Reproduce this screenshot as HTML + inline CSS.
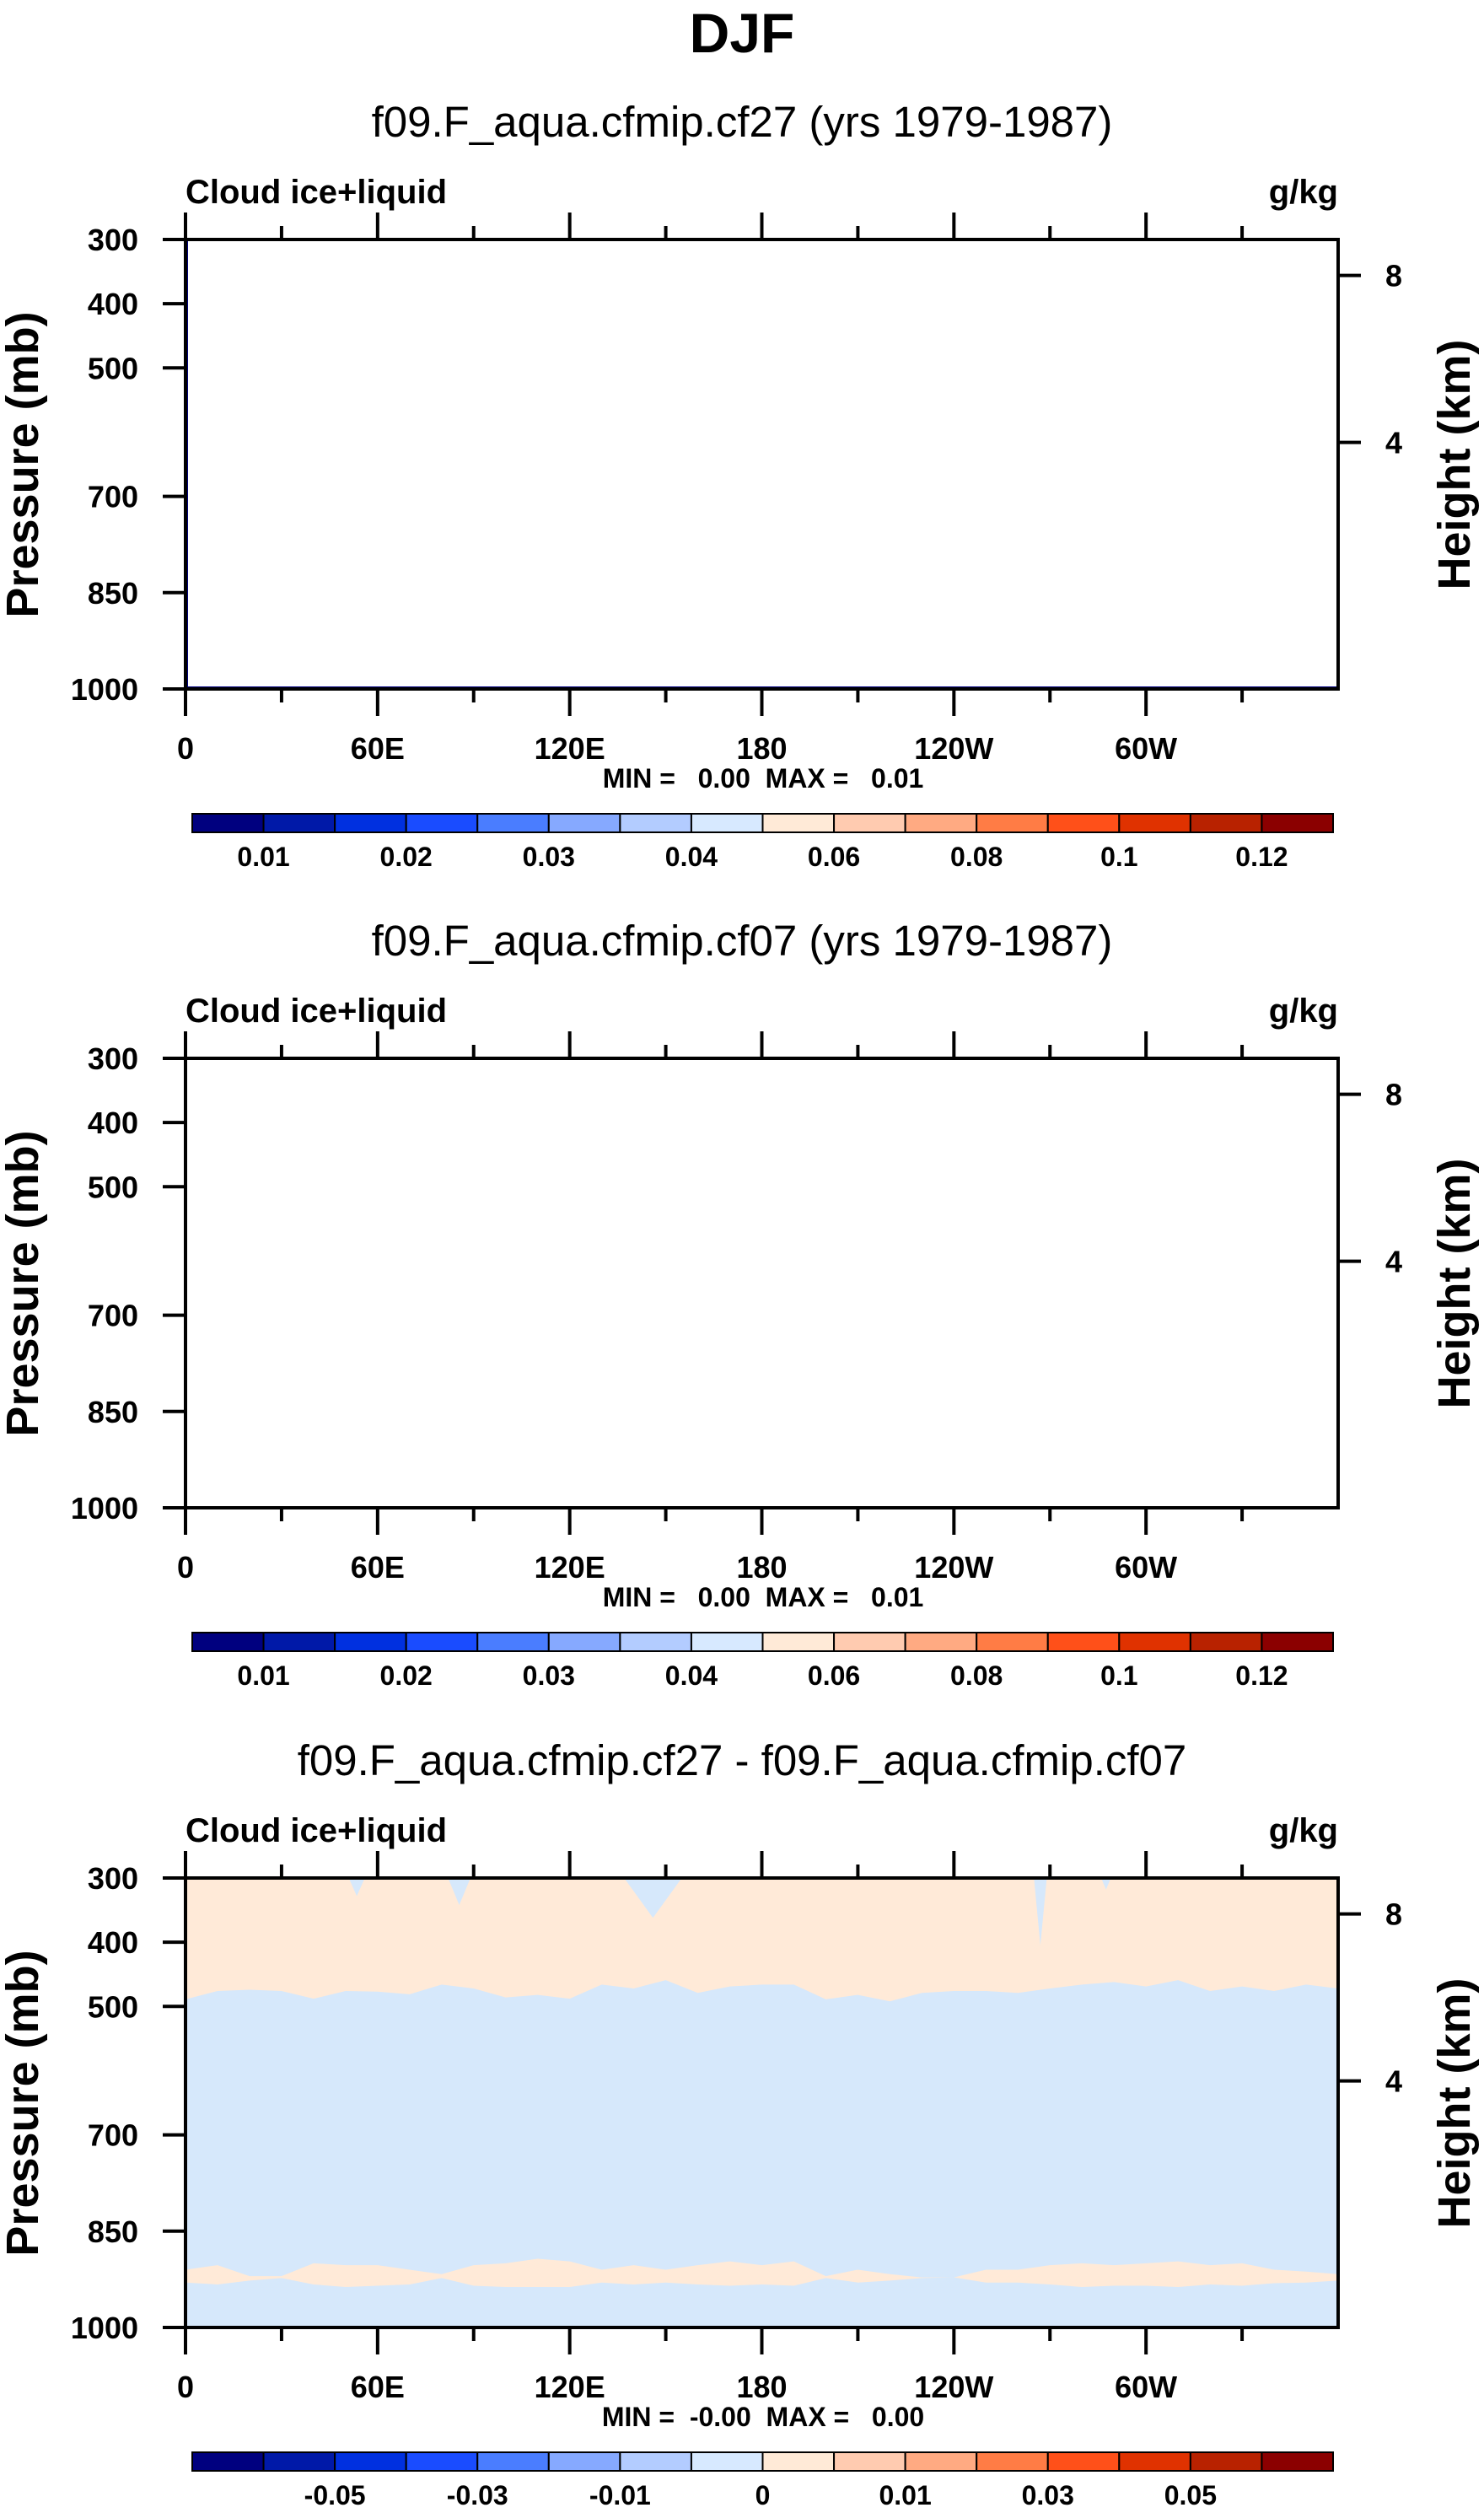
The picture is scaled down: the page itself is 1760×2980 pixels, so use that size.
<!DOCTYPE html>
<html><head><meta charset="utf-8"><style>
html,body{margin:0;padding:0;background:#fff;}
svg text{font-family:"Liberation Sans",Arial,sans-serif;white-space:pre;}
</style></head><body>
<svg id="fig" xmlns="http://www.w3.org/2000/svg" width="1760" height="2975" viewBox="0 0 1760 2975">
<rect width="1760" height="2975" fill="#fff"/>
<text x="880" y="62" font-size="66" font-weight="bold" text-anchor="middle">DJF</text>
</svg>
<script>
// ---- data ----
const lonTickLabels = ["0","60E","120E","180","120W","60W"];
const lonTicks = [0,60,120,180,240,300];
const pressureTicks = [300,400,500,700,850,1000];
const heightTickLabels = ["8","4"];
const heightTickPressures = [356,616];
const colors = ["#00007f","#0019a8","#0030e0","#1a4cff","#4a7dff","#86a9ff","#b3ccff","#d7e9ff","#ffead7","#ffcbb0","#ffaa82","#ff7c45","#ff5019","#e03200","#b82200","#8b0000"];
const cbLabels12 = ["0.01","0.02","0.03","0.04","0.06","0.08","0.1","0.12"];
const cbLabelPos12 = [1,3,5,7,9,11,13,15];
const cbLabels3 = ["-0.05","-0.03","-0.01","0","0.01","0.03","0.05"];
const cbLabelPos3 = [2,4,6,8,10,12,14];
const subtitles = ["f09.F_aqua.cfmip.cf27 (yrs 1979-1987)","f09.F_aqua.cfmip.cf07 (yrs 1979-1987)","f09.F_aqua.cfmip.cf27 - f09.F_aqua.cfmip.cf07"];
const minmax = ["MIN =   0.00  MAX =   0.01","MIN =   0.00  MAX =   0.01","MIN =  -0.00  MAX =   0.00"];
// diff panel: longitudes every 10 deg
const diffLons = [0,10,20,30,40,50,60,70,80,90,100,110,120,130,140,150,160,170,180,190,200,210,220,230,240,250,260,270,280,290,300,310,320,330,340,350,360];
const upperBoundary = [489,476,474,476,488,476,477,481,466,472,486,482,488,466,472,459,479,469,466,466,489,482,492,479,476,476,479,472,466,462,469,459,476,469,476,466,472];
const bandTop = [910,903,920,920,900,903,903,910,917,903,900,893,897,910,903,910,903,897,903,897,920,910,917,922,922,910,910,903,900,903,900,897,903,900,910,913,917];
const bandBottom = [930,933,927,923,933,937,935,933,923,935,937,937,937,930,933,930,933,935,933,935,923,930,927,923,922,930,930,933,937,935,935,937,933,935,931,930,927];
// blue intrusions from top: start lon, end lon, deepest pressure
const intrusionStart = [51,82,137,265,286];
const intrusionEnd = [56,89,155,269,289];
const intrusionDepth = [328,342,362,405,318];

const NS="http://www.w3.org/2000/svg";
const svg=document.getElementById('fig');
const L=220,R=1587,H=533;
const panelTops=[284,1255,2227];
function el(tag,attrs,parent,txt){const e=document.createElementNS(NS,tag);for(const k in attrs)e.setAttribute(k,attrs[k]);if(txt!==undefined)e.textContent=txt;(parent||svg).appendChild(e);return e;}
function xS(lon){return L+(R-L)*lon/360;}
function yS(p,T){return T+H*(p-300)/700;}

panelTops.forEach((T,pi)=>{
  const g=el('g',{});
  
  
  const st=el('text',{x:880,y:T-122,'font-size':51,'text-anchor':'middle'},g,subtitles[pi]);
  
  
  const lt=el('text',{x:L,y:T-43,'font-size':40,'font-weight':'bold'},g,'Cloud ice+liquid');
  
  
  const ut=el('text',{x:R,y:T-43,'font-size':40,'font-weight':'bold','text-anchor':'end'},g,'g/kg');
  
  
  if(pi===2){
    const bg=el('rect',{x:L,y:T,width:R-L,height:H,fill:'#d6e8fb'},g);
    
    
    let pts=[[xS(0),yS(300,T)]];
    diffLons.forEach((lo,i)=>pts.push([xS(lo),yS(upperBoundary[i],T)]));
    pts.push([xS(360),yS(300,T)]);
    const up=el('polygon',{points:pts.map(p=>p.join(',')).join(' '),fill:'#ffead8'},g);
    
    
    intrusionStart.forEach((s,i)=>{
      const m=(s+intrusionEnd[i])/2;
      const pol=el('polygon',{points:`${xS(s)},${T} ${xS(intrusionEnd[i])},${T} ${xS(m)},${yS(intrusionDepth[i],T)}`,fill:'#d6e8fb'},g);
      
      
    });
    let bp=[];
    diffLons.forEach((lo,i)=>bp.push([xS(lo),yS(bandTop[i],T)]));
    for(let i=diffLons.length-1;i>=0;i--)bp.push([xS(diffLons[i]),yS(bandBottom[i],T)]);
    const band=el('polygon',{points:bp.map(p=>p.join(',')).join(' '),fill:'#ffead8'},g);
    
    
  }
  if(pi===0){
    const c=el('polyline',{points:`${L+1},${T} ${L+1},${T+H-1} ${R},${T+H-1}`,fill:'none',stroke:'#00007f','stroke-width':4},g);
    
    
  }
  const fr=el('rect',{x:L,y:T,width:R-L,height:H,fill:'none',stroke:'#000','stroke-width':4},g);
  
  
  for(let lo=0;lo<360;lo+=30){
    const major=lo%60===0;const len=major?32:16;const x=xS(lo);
    el('line',{x1:x,y1:T,x2:x,y2:T-len,stroke:'#000','stroke-width':4},g);
    el('line',{x1:x,y1:T+H,x2:x,y2:T+H+len,stroke:'#000','stroke-width':4},g);
  }
  lonTicks.forEach((lo,i)=>{
    const t=el('text',{x:xS(lo),y:T+616,'font-size':36,'font-weight':'bold','text-anchor':'middle'},g,lonTickLabels[i]);
    
    
  });
  pressureTicks.forEach(p=>{
    const y=yS(p,T);
    el('line',{x1:L,y1:y,x2:L-27,y2:y,stroke:'#000','stroke-width':4},g);
    const t=el('text',{x:164,y:y+13,'font-size':36,'font-weight':'bold','text-anchor':'end'},g,String(p));
    
    
  });
  heightTickPressures.forEach((p,i)=>{
    const y=yS(p,T);
    el('line',{x1:R,y1:y,x2:R+27,y2:y,stroke:'#000','stroke-width':4},g);
    const t=el('text',{x:1653,y:y+13,'font-size':36,'font-weight':'bold','text-anchor':'middle'},g,heightTickLabels[i]);
    
    
  });
  const yl=el('text',{x:0,y:0,'font-size':54,'font-weight':'bold','text-anchor':'middle',transform:`translate(45,${T+267}) rotate(-90)`},g,'Pressure (mb)');
  
  
  const yr=el('text',{x:0,y:0,'font-size':54,'font-weight':'bold','text-anchor':'middle',transform:`translate(1743,${T+267}) rotate(-90)`},g,'Height (km)');
  
  
  const mm=el('text',{x:905,y:T+650,'font-size':32,'font-weight':'bold','text-anchor':'middle'},g,minmax[pi]);
  
  
  const cx0=228,cx1=1581,cw=(cx1-cx0)/16,cy=T+681,ch=22;
  colors.forEach((c,i)=>{
    const r=el('rect',{x:cx0+i*cw,y:cy,width:cw,height:ch,fill:c,stroke:'#000','stroke-width':2},g);
    
    
  });
  const labs=pi===2?cbLabels3:cbLabels12, pos=pi===2?cbLabelPos3:cbLabelPos12;
  labs.forEach((s,i)=>{
    const t=el('text',{x:cx0+pos[i]*cw,y:T+743,'font-size':32,'font-weight':'bold','text-anchor':'middle'},g,s);
    
    
  });
});
</script>
</body></html>
